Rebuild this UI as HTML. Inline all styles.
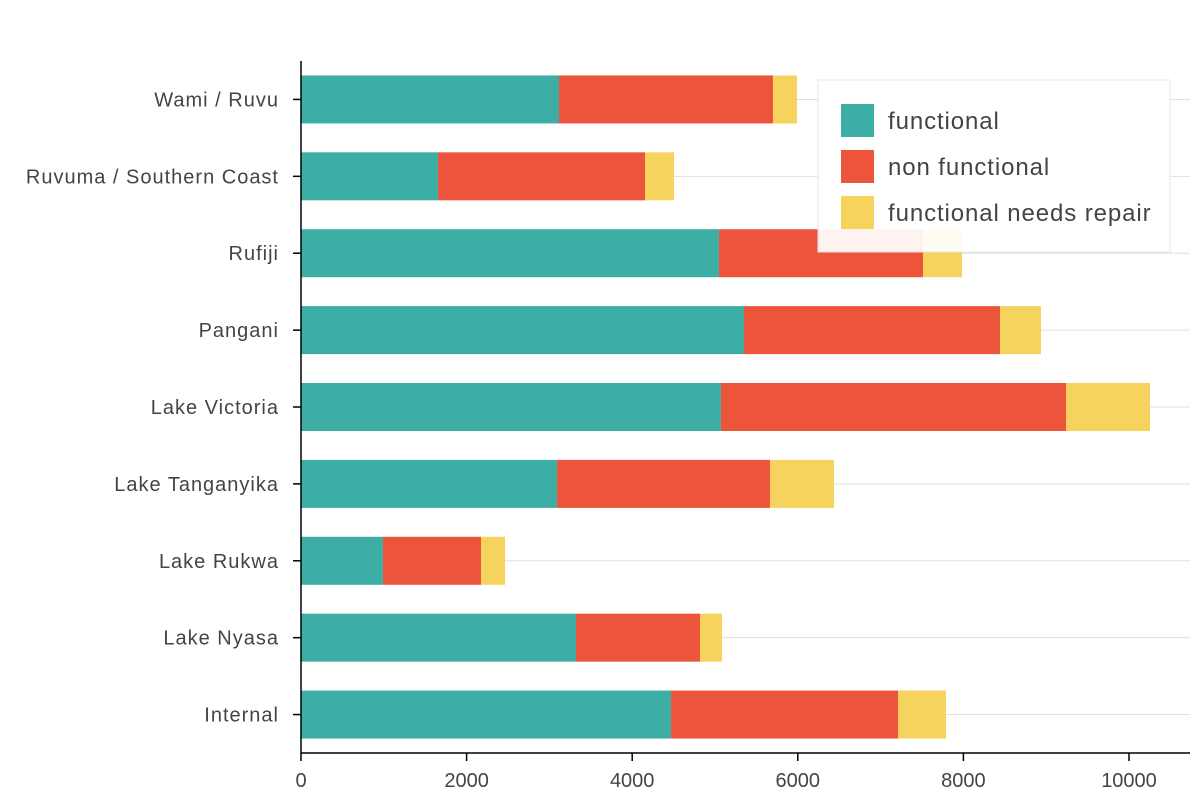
<!DOCTYPE html>
<html><head><meta charset="utf-8"><style>
body{margin:0;background:#fff;font-family:"Liberation Sans",sans-serif}
</style></head><body>
<svg id="c" width="1200" height="800" style="display:block"></svg>
<script>
const categories=["Wami / Ruvu","Ruvuma / Southern Coast","Rufiji","Pangani","Lake Victoria","Lake Tanganyika","Lake Rukwa","Lake Nyasa","Internal"];
const functional=[3116,1655,5048,5350,5072,3092,990,3321,4469];
const nonFunctional=[2584,2500,2464,3092,4167,2572,1184,1498,2741];
const needsRepair=[290,350,471,495,1015,773,290,266,580];
const xTicks=[0,2000,4000,6000,8000,10000];
const seriesNames=["functional","non functional","functional needs repair"];
const colors=["#3daea5","#ec553b","#f5d35c"];
const NS="http://www.w3.org/2000/svg";
const svg=document.getElementById('c');
const x0=301,x1=1190,plotTop=61,plotBottom=753;
const xs=v=>x0+v*0.0828;
const band=(plotBottom-plotTop)/categories.length;
const yc=i=>plotTop+band*(i+0.5);
function el(t,a,txt){const e=document.createElementNS(NS,t);for(const k in a)e.setAttribute(k,a[k]);if(txt!==undefined)e.textContent=txt;svg.appendChild(e);return e;}
categories.forEach((c,i)=>{
 const g=el('line',{x1:x0,x2:x1,y1:yc(i),y2:yc(i),stroke:'#e0e0e0','stroke-width':1});
 
 
});
const series=[functional,nonFunctional,needsRepair];
categories.forEach((c,i)=>{
 let acc=0;
 series.forEach((s,j)=>{
  const r=el('rect',{x:xs(acc),y:yc(i)-24,width:xs(acc+s[i])-xs(acc),height:48,fill:colors[j]});
  
  
  acc+=s[i];
 });
 const t=el('text',{x:x0-22,y:yc(i)+7,'text-anchor':'end','font-size':20,'letter-spacing':1,fill:'#444'},c);
 
 
 el('line',{x1:x0-8,x2:x0,y1:yc(i),y2:yc(i),stroke:'#000','stroke-width':1.5});
});
el('line',{x1:x0,x2:x0,y1:plotTop,y2:plotBottom,stroke:'#000','stroke-width':1.5});
el('line',{x1:x0,x2:x1,y1:plotBottom,y2:plotBottom,stroke:'#000','stroke-width':1.5});
xTicks.forEach(v=>{
 el('line',{x1:xs(v),x2:xs(v),y1:plotBottom,y2:plotBottom+8,stroke:'#000','stroke-width':1.5});
 const t=el('text',{x:xs(v),y:plotBottom+34,'text-anchor':'middle','font-size':20,fill:'#444'},v);
 
 
});
const lg=el('rect',{x:818,y:80,width:352,height:172,fill:'rgba(255,255,255,0.93)',stroke:'#e6e6e6'});


seriesNames.forEach((n,j)=>{
 el('rect',{x:841,y:104+j*46,width:33,height:33,fill:colors[j]});
 const t=el('text',{x:888,y:129+j*46,'font-size':24,'letter-spacing':0.9,fill:'#444'},n);
 
 
});
</script>
</body></html>
